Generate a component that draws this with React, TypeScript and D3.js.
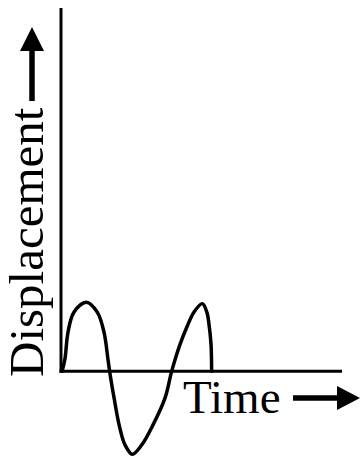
import React from "react";
import * as d3 from "d3";

// Hand-drawn displacement vs time trace (time in % of axis length, displacement in units of the first peak)
const timeValues = [0.4, 1.4, 2.5, 4.6, 9.0, 12.9, 15.3, 16.7, 17.3, 18.9, 20.7, 22.8, 25.4, 28.7, 32.7, 37.0, 39.4, 42.3, 45.1, 47.3, 50.3, 51.9, 52.7, 53.4, 53.6];
const displacementValues = [0, 0.17, 0.55, 0.83, 0.97, 0.83, 0.55, 0.17, 0, -0.38, -0.76, -1.04, -1.17, -1.04, -0.76, -0.38, 0, 0.37, 0.65, 0.83, 0.95, 0.83, 0.65, 0.37, 0];
const xLabel = "Time";
const yLabel = "Displacement";

const W = 360;
const H = 459;

export default function App() {
  const x = d3.scaleLinear().domain([0, 100]).range([61, 342]);
  const y = d3.scaleLinear().domain([-1.18, 5.11]).range([455, 8]);
  const pts: [number, number][] = timeValues.map((t, i) => [t, displacementValues[i]]);
  const line = d3
    .line<[number, number]>()
    .x((d) => x(d[0]))
    .y((d) => y(d[1]))
    .curve(d3.curveCatmullRom.alpha(0.5));

  const font = "'Liberation Serif', 'DejaVu Serif', serif";
  const y0 = y(0);
  const x0 = x(0);

  return (
    <svg width={W} height={H} style={{ position: "absolute", left: 0, top: 0, background: "#fff" }}>
      <rect width={W} height={H} fill="#fff" />
      {/* axes */}
      <line x1={x0} y1={y(5.11)} x2={x0} y2={y0 + 1.5} stroke="#000" strokeWidth={3} />
      <line x1={x0 - 1.5} y1={y0} x2={x(100)} y2={y0} stroke="#000" strokeWidth={3} />
      {/* curve */}
      <path d={line(pts) || ""} fill="none" stroke="#000" strokeWidth={3.5} strokeLinejoin="round" strokeLinecap="round" />
      {/* y label */}
      <text
        transform="translate(43,377) rotate(-90)"
        fontFamily={font}
        fontSize={49}
        fill="#000"
      >
        {yLabel}
      </text>
      <line x1={32} y1={101} x2={32} y2={48} stroke="#000" strokeWidth={5.5} />
      <path d="M32,27 L44,51 L20,51 Z" fill="#000" />
      {/* x label */}
      <text x={183} y={413} fontFamily={font} fontSize={47} fill="#000">
        {xLabel}
      </text>
      <line x1={293} y1={398} x2={340} y2={398} stroke="#000" strokeWidth={5.5} />
      <path d="M360,398 L337,386 L337,410 Z" fill="#000" />
    </svg>
  );
}
